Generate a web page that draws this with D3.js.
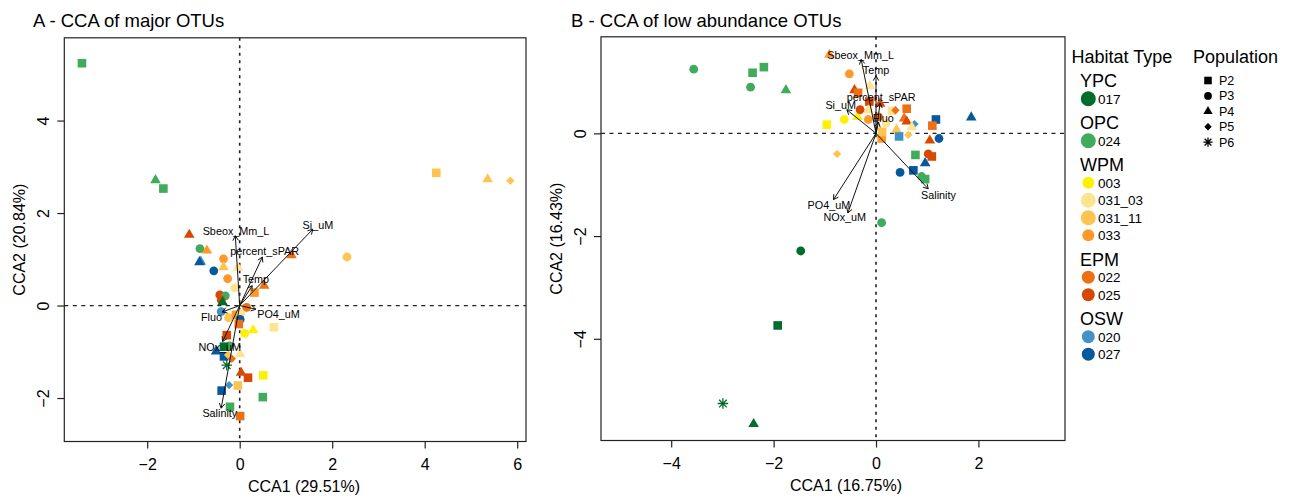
<!DOCTYPE html>
<html>
<head>
<meta charset="utf-8">
<script src="https://cdn.jsdelivr.net/npm/d3@7"></script>
<style>
  body { margin: 0; background: #fff; }
  text { font-family: "Liberation Sans", Arial, Helvetica, sans-serif; fill: #000; }
</style>
</head>
<body>
<svg id="chart" width="1294" height="497"></svg>
<script>
// ---- data ----
var habitats      = ["017", "024", "003", "031_03", "031_11", "033", "022", "025", "020", "027"];
var habitatColors = ["#006d2c", "#41ab5d", "#fff000", "#fee391", "#fec44f", "#fe9929", "#ec7014", "#d94801", "#4292c6", "#08589e"];
var habitatGroups = [["YPC", ["017"]], ["OPC", ["024"]], ["WPM", ["003", "031_03", "031_11", "033"]],
                     ["EPM", ["022", "025"]], ["OSW", ["020", "027"]]];
var populations   = ["P2", "P3", "P4", "P5", "P6"];
var envVars       = ["Sbeox_Mm_L", "Si_uM", "percent_sPAR", "Temp", "Fluo", "PO4_uM", "NOx_uM", "Salinity"];

// site scores: habitat, population, CCA1, CCA2
var sitesA = [
  ["024","P2",-3.41,5.24], ["024","P4",-1.82,2.71], ["024","P2",-1.65,2.53],
  ["031_11","P2",4.25,2.87], ["031_11","P4",5.36,2.73], ["031_11","P5",5.85,2.70], ["031_11","P3",2.32,1.05],
  ["025","P4",-1.09,1.53], ["024","P3",-0.86,1.23], ["033","P4",-0.71,1.19],
  ["020","P4",-0.84,0.95], ["027","P4",-0.87,0.94], ["027","P3",-0.56,0.75],
  ["033","P3",-0.35,1.01], ["031_11","P4",-0.35,0.83], ["031_03","P4",-0.04,0.82],
  ["033","P3",-0.26,0.58], ["031_03","P3",-0.11,0.38], ["022","P4",1.12,1.09],
  ["022","P4",0.53,0.43], ["033","P2",0.32,0.28], ["025","P3",-0.43,0.23],
  ["024","P3",-0.31,0.21], ["025","P3",-0.40,0.12], ["017","P4",-0.37,0.07],
  ["022","P3",0.15,-0.04], ["020","P3",-0.40,-0.13], ["031_11","P3",-0.24,-0.26],
  ["033","P2",-0.08,-0.20], ["031_03","P3",0.02,-0.17], ["027","P3",0.01,-0.30],
  ["022","P2",-0.02,-0.40], ["003","P3",0.11,-0.60], ["003","P4",0.29,-0.53],
  ["031_03","P2",0.74,-0.47], ["025","P2",-0.28,-0.64], ["024","P3",-0.22,-0.87],
  ["017","P2",-0.34,-0.89], ["027","P4",-0.51,-0.99], ["027","P2",-0.34,-1.10],
  ["031_11","P5",-0.25,-1.07], ["031_03","P4",0.01,-1.05], ["022","P5",-0.17,-1.15],
  ["017","P6",-0.28,-1.29], ["025","P4",0.03,-1.45], ["025","P2",0.18,-1.56],
  ["003","P2",0.51,-1.51], ["020","P5",-0.23,-1.72], ["031_11","P2",-0.04,-1.73],
  ["027","P2",-0.39,-1.84], ["024","P2",0.50,-1.98], ["024","P2",-0.21,-2.19],
  ["022","P2",0.01,-2.39]
];
var sitesB = [
  ["024","P3",-3.56,1.25], ["024","P2",-2.41,1.18], ["024","P2",-2.19,1.29],
  ["024","P3",-2.45,0.90], ["024","P4",-1.76,0.84], ["017","P3",-1.47,-2.29],
  ["017","P2",-1.92,-3.74], ["017","P6",-2.99,-5.26], ["017","P4",-2.39,-5.66],
  ["024","P3",0.11,-1.74], ["003","P2",-0.96,0.17], ["003","P3",-0.62,0.27],
  ["003","P4",-0.36,0.32], ["031_11","P5",-0.76,-0.40], ["033","P4",-0.91,1.53],
  ["033","P3",-0.52,1.16], ["025","P4",-0.42,0.84], ["022","P2",-0.35,0.79],
  ["031_03","P4",-0.12,0.92], ["025","P2",-0.13,0.62], ["025","P4",0.08,0.58],
  ["025","P3",-0.31,0.46], ["031_03","P4",-0.15,0.45], ["033","P3",-0.15,0.27],
  ["031_03","P2",0.31,0.44], ["022","P5",0.38,0.45], ["022","P2",0.60,0.48],
  ["022","P4",0.55,0.29], ["025","P4",0.60,0.23], ["020","P5",0.75,0.18],
  ["027","P2",1.17,0.27], ["022","P2",1.10,0.15], ["027","P4",1.86,0.31],
  ["031_11","P4",0.40,0.07], ["031_03","P4",0.70,0.12], ["031_11","P5",0.63,-0.03],
  ["020","P2",0.45,-0.06], ["033","P2",0.11,-0.10], ["031_11","P2",0.12,0.03],
  ["031_03","P3",0.20,0.20], ["022","P3",0.05,0.32], ["025","P4",1.05,-0.14],
  ["027","P3",1.23,-0.10], ["024","P2",0.77,-0.42], ["025","P3",1.02,-0.40],
  ["025","P2",1.09,-0.45], ["027","P4",0.96,-0.58], ["027","P3",0.47,-0.76],
  ["027","P2",0.73,-0.72], ["024","P3",0.89,-0.84], ["024","P2",0.96,-0.89]
];

// biplot arrow heads and their label spots, same order as envVars
var arrowsA = [[-0.095,1.51], [1.58,1.65], [0.49,1.05], [0.27,0.43], [-0.38,-0.14], [0.35,-0.08], [-0.37,-0.78], [-0.40,-2.22]];
var labelsA = [[-0.08,1.62], [1.69,1.75], [0.54,1.17], [0.35,0.58], [-0.61,-0.25], [0.84,-0.19], [-0.43,-0.89], [-0.43,-2.33]];
var arrowsB = [[-0.29,1.44], [-0.57,0.46], [0.08,0.59], [0.0,1.12], [0.05,0.22], [-0.83,-1.29], [-0.55,-1.55], [1.02,-1.08]];
var labelsB = [[-0.30,1.53], [-0.69,0.55], [0.10,0.71], [0.0,1.24], [0.14,0.29], [-0.92,-1.39], [-0.61,-1.63], [1.22,-1.20]];

var ticksAx = [-2, 0, 2, 4, 6], ticksAy = [-2, 0, 2, 4];
var ticksBx = [-4, -2, 0, 2],   ticksBy = [-4, -2, 0];

// ---- drawing ----
var svg = d3.select("#chart");
var color = d3.scaleOrdinal().domain(habitats).range(habitatColors);

function mark(g, pop, px, py, col, k) {
  k = k || 1;
  if (pop === "P2") {
    g.append("rect").attr("x", px - 4.3 * k).attr("y", py - 4.3 * k)
      .attr("width", 8.6 * k).attr("height", 8.6 * k).attr("fill", col);
  } else if (pop === "P3") {
    g.append("circle").attr("cx", px).attr("cy", py).attr("r", 4.4 * k).attr("fill", col);
  } else if (pop === "P4") {
    var a = 10.6 * k, h = a * Math.sqrt(3) / 2;
    g.append("path").attr("fill", col)
      .attr("d", "M" + px + "," + (py - h * 2 / 3) + "L" + (px + a / 2) + "," + (py + h / 3) +
                 "L" + (px - a / 2) + "," + (py + h / 3) + "Z");
  } else if (pop === "P5") {
    var d = 4.2 * k;
    g.append("path").attr("fill", col)
      .attr("d", "M" + px + "," + (py - d) + "L" + (px + d) + "," + py + "L" + px + "," + (py + d) +
                 "L" + (px - d) + "," + py + "Z");
  } else {
    var r = 5.3 * k, q = r * 0.72;
    g.append("path").attr("stroke", col).attr("stroke-width", 1.3).attr("fill", "none")
      .attr("d", "M" + (px - r) + "," + py + "H" + (px + r) + "M" + px + "," + (py - r) + "V" + (py + r) +
                 "M" + (px - q) + "," + (py - q) + "L" + (px + q) + "," + (py + q) +
                 "M" + (px - q) + "," + (py + q) + "L" + (px + q) + "," + (py - q));
  }
}

function drawPanel(p) {
  var x = d3.scaleLinear().domain(p.xlim).range([p.left, p.right]);
  var y = d3.scaleLinear().domain(p.ylim).range([p.bottom, p.top]);
  var g = svg.append("g");

  g.append("text").attr("x", p.titleX).attr("y", 26.7).style("font-size", "18.5px").text(p.title);

  // zero lines
  g.append("line").attr("x1", p.left).attr("x2", p.right).attr("y1", y(0)).attr("y2", y(0))
    .attr("stroke", "#222").attr("stroke-width", 1.2).attr("stroke-dasharray", "4,4.5");
  g.append("line").attr("x1", x(0)).attr("x2", x(0)).attr("y1", p.top).attr("y2", p.bottom)
    .attr("stroke", "#222").attr("stroke-width", 1.6).attr("stroke-dasharray", "3,4.5");

  // sites
  var pts = g.append("g");
  p.sites.forEach(function(s) { mark(pts, s[1], x(s[2]), y(s[3]), color(s[0])); });

  // biplot arrows
  var ar = g.append("g").attr("stroke", "#111").attr("stroke-width", 1).attr("fill", "none");
  p.arrows.forEach(function(a) {
    var x1 = x(0), y1 = y(0), x2 = x(a[0]), y2 = y(a[1]);
    var ang = Math.atan2(y2 - y1, x2 - x1), L = 5.5, sp = Math.PI / 6;
    ar.append("line").attr("x1", x1).attr("y1", y1).attr("x2", x2).attr("y2", y2);
    ar.append("path").attr("d",
      "M" + (x2 - L * Math.cos(ang - sp)) + "," + (y2 - L * Math.sin(ang - sp)) +
      "L" + x2 + "," + y2 +
      "L" + (x2 - L * Math.cos(ang + sp)) + "," + (y2 - L * Math.sin(ang + sp)));
  });
  p.labels.forEach(function(l, i) {
    g.append("text").attr("x", x(l[0])).attr("y", y(l[1])).attr("dy", "0.36em")
      .attr("text-anchor", "middle").style("font-size", "10.8px").text(envVars[i]);
  });

  // box
  g.append("rect").attr("x", p.left).attr("y", p.top).attr("width", p.right - p.left)
    .attr("height", p.bottom - p.top).attr("fill", "none").attr("stroke", "#222").attr("stroke-width", 1.2);

  // axes
  var ax = g.append("g").attr("transform", "translate(0," + p.bottom + ")")
    .call(d3.axisBottom(x).tickValues(p.xticks).tickSize(7));
  ax.select(".domain").remove();
  ax.selectAll("line").attr("stroke", "#222").attr("stroke-width", 1.2);
  ax.selectAll("text").attr("y", 28).attr("dy", 0).style("font-size", "16px")
    .style("font-family", "Liberation Sans, Arial, sans-serif").attr("fill", "#000");

  var ay = g.append("g").attr("transform", "translate(" + p.left + ",0)")
    .call(d3.axisLeft(y).tickValues(p.yticks).tickSize(7));
  ay.select(".domain").remove();
  ay.selectAll("line").attr("stroke", "#222").attr("stroke-width", 1.2);
  ay.selectAll("text").attr("x", 0).attr("dy", 0).attr("text-anchor", "middle")
    .attr("transform", "translate(-15,0) rotate(-90)").style("font-size", "16px")
    .style("font-family", "Liberation Sans, Arial, sans-serif").attr("fill", "#000");

  g.append("text").attr("x", p.xTitleX).attr("y", p.bottom + 50).attr("text-anchor", "middle")
    .style("font-size", "16px").text(p.xTitle);
  g.append("text").attr("text-anchor", "middle").style("font-size", "16px")
    .attr("transform", "translate(" + (p.left - 39) + "," + ((p.top + p.bottom) / 2) + ") rotate(-90)")
    .text(p.yTitle);
}

drawPanel({
  title: "A - CCA of major OTUs", titleX: 33,
  xTitle: "CCA1 (29.51%)", yTitle: "CCA2 (20.84%)",
  left: 64.3, right: 526, top: 37.8, bottom: 441.5, xTitleX: 304,
  xlim: [-3.792, 6.19], ylim: [-2.94, 5.79],
  xticks: ticksAx, yticks: ticksAy,
  sites: sitesA, arrows: arrowsA, labels: labelsA
});

drawPanel({
  title: "B - CCA of low abundance OTUs", titleX: 571,
  xTitle: "CCA1 (16.75%)", yTitle: "CCA2 (16.43%)",
  left: 601, right: 1065, top: 36.8, bottom: 440.5, xTitleX: 846,
  xlim: [-5.371, 3.691], ylim: [-5.98, 1.88],
  xticks: ticksBx, yticks: ticksBy,
  sites: sitesB, arrows: arrowsB, labels: labelsB
});

// ---- legend ----
var big = { "017": 7.5, "024": 7.5, "031_03": 7.5, "031_11": 7.5, "003": 6, "033": 6 };
var lg = svg.append("g");
lg.append("text").attr("x", 1071.5).attr("y", 63).style("font-size", "18px").text("Habitat Type");
lg.append("text").attr("x", 1193).attr("y", 63).style("font-size", "18px").text("Population");

var ly = 80.7;
habitatGroups.forEach(function(grp, gi) {
  if (gi > 0) ly += 24;
  lg.append("text").attr("x", 1080).attr("y", ly + 6.4).style("font-size", "18px").text(grp[0]);
  ly += 18;
  grp[1].forEach(function(code, ci) {
    if (ci > 0) ly += 17.5;
    lg.append("circle").attr("cx", 1088.3).attr("cy", ly).attr("r", big[code] || 6.5).attr("fill", color(code));
    lg.append("text").attr("x", 1098).attr("y", ly + 4.8).style("font-size", "13.5px").text(code);
  });
});

populations.forEach(function(pop, i) {
  var py = 80.5 + i * 15.4;
  mark(lg, pop, 1208, py, "#000", 0.88);
  lg.append("text").attr("x", 1219).attr("y", py + 4.5).style("font-size", "12.5px").text(pop);
});
</script>
</body>
</html>
